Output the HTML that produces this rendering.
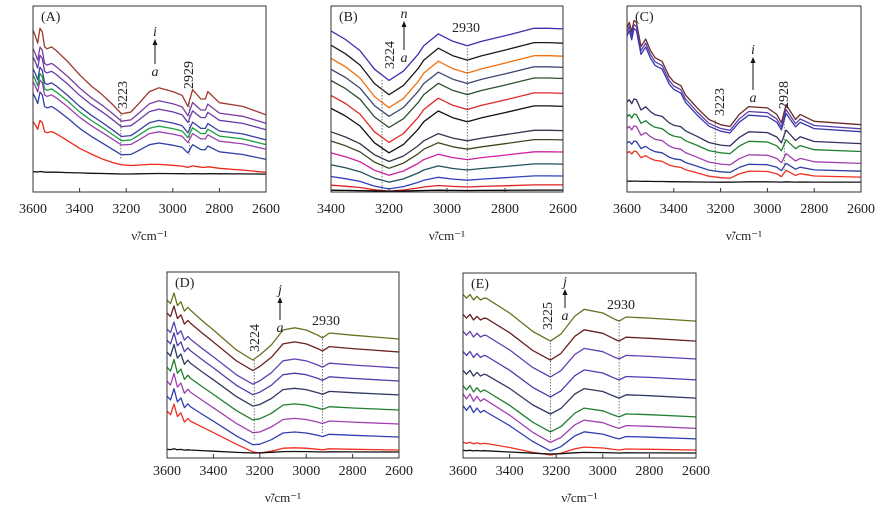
<!DOCTYPE html>
<html><head><meta charset="utf-8">
<style>
html,body{margin:0;padding:0;background:#fff;}
svg{display:block;font-family:"Liberation Serif",serif;}
</style></head>
<body>
<svg id="fig" width="886" height="508" viewBox="0 0 886 508" xmlns="http://www.w3.org/2000/svg"></svg>
<script>
// ---------- Panel A data ----------
const wnA=[3600,3590,3580,3570,3560,3550,3540,3520,3500,3450,3400,3350,3300,3250,3220,3180,3150,3100,3060,3000,2960,2935,2915,2880,2860,2850,2800,2700,2600];
const bgA=[45.5,42.5,38.5,46.5,44.5,36.5,35.5,36.5,34.5,28,21.5,16.5,12,9,8,7,6.6,6,5.6,5,4.6,4.4,4.2,3.8,3.6,3.5,3,1.5,0];
const bandA=[0,0,0,0,0,0,0,0,0,0.5,0,-1,-1.5,-4.5,-7.5,-5.5,-1.1,6.5,8.9,7.5,5.9,0.1,9.3,4.7,4.9,9,3.5,3,0];
const offA=[41.5,37,33.5,28,25.5,23,17.5,10.6,9.6];
const bgAmpA=[1,0.88,0.86,0.84,0.82,0.8,0.78,0.6,0.03];
const bandAmpA=[1,0.8,0.7,0.65,0.6,0.55,0.5,0.1,0.02];
const colA=["#a0362c","#7a3fa0","#6a3aa8","#3b3fa0","#18a040","#9a40b0","#3040a8","#f02818","#111"];
// ---------- Panel B data ----------
const wnB=[3400,3350,3300,3250,3200,3150,3100,3080,3030,2980,2930,2880,2800,2700,2650,2600];
const bgB=[0,0,0,0,0,0,0,0,0,0,0,0,0,0,0,0];
const bandB=[-1.1,-5.7,-11.7,-21.7,-27.7,-22.7,-13.7,-9.1,-2.7,-6.7,-9.1,-6.7,-3.7,0.3,0.3,0];
const offB=[87.7,80,73,67,61,53,46,33,28,21.5,15,8.6,3.8,1];
const bgAmpB=[0,0,0,0,0,0,0,0,0,0,0,0,0,0];
const bandAmpB=[1,1,1,0.95,0.95,0.95,0.9,0.6,0.55,0.45,0.35,0.25,0.12,0.02];
const colB=["#3a30b0","#201820","#f07010","#404870","#2a5030","#e02828","#101010","#303848","#3a4a20","#d020a0","#20505a","#3040c0","#e02020","#000"];
// ---------- Panel C data ----------
const wnC=[3600,3590,3580,3570,3560,3540,3520,3500,3480,3450,3420,3400,3370,3350,3300,3250,3200,3160,3120,3080,3000,2960,2940,2920,2880,2860,2800,2600];
const bgC=[52,55,50,56,55,42,46,40,36,34,26,23,21,16,9,5,3,2.2,1.8,1.6,1.3,1.1,1,0.9,0.8,0.7,0.5,0];
const bandC=[0,0,0,0,0,0,0,0,0,0,0,0,0,0,0,-2.2,-3,-3.2,3.7,8.1,7.7,4.4,0,9.9,2,4.8,1.3,0];
const offC=[36.2,34,32.4,26,21.8,15.4,11.2,8,5.3];
const bgAmpC=[1,1,0.99,0.43,0.36,0.36,0.29,0.25,0.01];
const bandAmpC=[1,0.95,0.9,0.7,0.6,0.5,0.4,0.35,0.02];
const colC=["#6a2a28","#5a40b0","#3a38a8","#303060","#208030","#a040b0","#3040a8","#f03020","#111"];
// ---------- Panel D data ----------
const wnD=[3600,3585,3570,3555,3540,3525,3510,3500,3450,3400,3300,3230,3200,3150,3100,3050,3000,2950,2930,2900,2800,2600];
const bgD=[21,19,24.7,18,20,15,17,15.6,13.1,10.5,5.3,1.6,0,0,0,0,0,0,0,0,0,0];
const bandD=[0,0,0,0,0,0,0,0,-3.1,-5.7,-11.3,-12.9,-8.6,-3.2,4.8,6,4.8,2,0.5,3.2,2,0];
const offD=[64,57,48.4,41.4,33.9,25.8,18.3,11.3,4.3,3.2];
const bgAmpD=[1,1,1,1.05,1.1,1.1,1.1,1.05,1,0.07];
const bandAmpD=[1,0.9,0.8,0.7,0.6,0.55,0.5,0.45,0.2,0.05];
const colD=["#6a7020","#6a2020","#6040b0","#4a40a8","#303860","#208030","#a040b0","#3040b0","#f03020","#111"];
// ---------- Panel E data ----------
const wnE=[3600,3585,3570,3555,3540,3525,3510,3500,3400,3300,3225,3180,3120,3080,3000,2950,2930,2900,2800,2600];
const bgE=[14.4,12.4,14.4,11.4,13.4,11.4,12.4,11,7,3,0,0,0,0,0,0,0,0,0,0];
const bandE=[0,0,0,0,0,0,0,1.4,-2.6,-8.6,-10.8,-7,2.7,6.4,4.4,1.1,0,2.2,1.6,0];
const offE=[74,63.2,53.5,42.2,32.4,22.2,16,10.3,4.3,2.7];
const bgAmpE=[1,1,1.04,1.07,1.04,1.18,1.29,1.25,0.29,0.1];
const bandAmpE=[1,0.95,0.9,0.85,0.8,0.75,0.7,0.6,0.25,0.05];
const colE=["#6a7020","#6a2020","#6040b0","#4a40b0","#303860","#208030","#a040b0","#3040b0","#f03020","#111"];
const ticksTop=[3600,3400,3200,3000,2800,2600];
const ticksB=[3400,3200,3000,2800,2600];

const NS="http://www.w3.org/2000/svg";
const svg=document.getElementById('fig');
function mk(tag,attrs,parent){const e=document.createElementNS(NS,tag);for(const k in attrs)e.setAttribute(k,attrs[k]);(parent||svg).appendChild(e);return e;}

function panel(p){
  const g=mk('g',{});
  
  
  const xS=w=>p.x0+(p.wmax-w)/(p.wmax-p.wmin)*(p.x1-p.x0);
  const yS=v=>p.y1-v/100*(p.y1-p.y0);
  p.off.forEach((o,i)=>{
    const pts=p.wn.map((w,j)=>xS(w).toFixed(1)+','+yS(o+p.bgAmp[i]*p.bg[j]+p.bandAmp[i]*p.band[j]).toFixed(1)).join(' ');
    const pl=mk('polyline',{points:pts,fill:'none',stroke:p.col[i],'stroke-width':1.3,'stroke-linejoin':'round'},g);
    
    
  });
  const fr=mk('rect',{x:p.x0,y:p.y0,width:p.x1-p.x0,height:p.y1-p.y0,fill:'none',stroke:'#333','stroke-width':1},g);
  
  
  p.ticks.forEach(t=>{
    const x=xS(t);
    mk('line',{x1:x,x2:x,y1:p.y1,y2:p.y1-4,stroke:'#333'},g);
    const tx=mk('text',{x:x,y:p.ty,'text-anchor':'middle','font-size':14,fill:'#222'},g);
    tx.textContent=t;
    
    
  });
  const at=mk('text',{x:(p.x0+p.x1)/2,y:p.ty+27,'text-anchor':'middle','font-size':13,fill:'#222'},g);
  at.textContent='ν̃/cm⁻¹';
  
  
  const lb=mk('text',{x:p.x0+8,y:p.y0+15,'font-size':14,fill:'#222'},g);
  lb.textContent='('+p.id+')';
  
  
  p.marks.forEach(m=>{
    const x=xS(m.w);
    const dl=mk('line',{x1:x,x2:x,y1:m.ya,y2:m.yb,stroke:'#555','stroke-width':0.8,'stroke-dasharray':'1.5,1.5'},g);
    
    
    let t;
    if(m.rot){t=mk('text',{x:0,y:0,'font-size':14,fill:'#222','text-anchor':'middle',transform:`translate(${m.lx},${m.ly}) rotate(-90)`},g);}
    else{t=mk('text',{x:m.lx,y:m.ly,'font-size':14,fill:'#222','text-anchor':'middle'},g);}
    t.textContent=m.t;
    
    
  });
  const a=p.arrow;
  mk('line',{x1:a.x,x2:a.x,y1:a.yb,y2:a.yt+4,stroke:'#111','stroke-width':1},g);
  mk('polygon',{points:`${a.x-2.5},${a.yt+5} ${a.x+2.5},${a.yt+5} ${a.x},${a.yt-1}`,fill:'#111'},g);
  const t1=mk('text',{x:a.x,y:a.yt-4,'font-size':14,'font-style':'italic','text-anchor':'middle',fill:'#222'},g);
  t1.textContent=a.top;
  
  
  const t2=mk('text',{x:a.x,y:a.yb+12,'font-size':14,'font-style':'italic','text-anchor':'middle',fill:'#222'},g);
  t2.textContent='a';
  
  
}

panel({id:'A',x0:33,x1:266,y0:6,y1:192,wmax:3600,wmin:2600,ticks:ticksTop,ty:213,
  wn:wnA,bg:bgA,band:bandA,off:offA,bgAmp:bgAmpA,bandAmp:bandAmpA,col:colA,
  marks:[{w:3223,ya:112,yb:160,t:'3223',rot:true,lx:127,ly:95},{w:2929,ya:100,yb:155,t:'2929',rot:true,lx:193,ly:75}],
  arrow:{x:155,yt:40,yb:64,top:'i'}});
panel({id:'B',x0:331,x1:563,y0:6,y1:192,wmax:3400,wmin:2600,ticks:ticksB,ty:213,
  wn:wnB,bg:bgB,band:bandB,off:offB,bgAmp:bgAmpB,bandAmp:bandAmpB,col:colB,
  marks:[{w:3224,ya:80,yb:190,t:'3224',rot:true,lx:394,ly:55},{w:2930,ya:48,yb:190,t:'2930',rot:false,lx:466,ly:32}],
  arrow:{x:404,yt:22,yb:50,top:'n'}});
panel({id:'C',x0:627,x1:861,y0:6,y1:192,wmax:3600,wmin:2600,ticks:ticksTop,ty:213,
  wn:wnC,bg:bgC,band:bandC,off:offC,bgAmp:bgAmpC,bandAmp:bandAmpC,col:colC,
  marks:[{w:3223,ya:120,yb:172,t:'3223',rot:true,lx:724,ly:102},{w:2928,ya:118,yb:170,t:'2928',rot:true,lx:788,ly:95}],
  arrow:{x:753,yt:58,yb:90,top:'i'}});
panel({id:'D',x0:167,x1:399,y0:272,y1:458,wmax:3600,wmin:2600,ticks:ticksTop,ty:475,
  wn:wnD,bg:bgD,band:bandD,off:offD,bgAmp:bgAmpD,bandAmp:bandAmpD,col:colD,
  marks:[{w:3224,ya:360,yb:440,t:'3224',rot:true,lx:259,ly:338},{w:2930,ya:336,yb:433,t:'2930',rot:false,lx:326,ly:325}],
  arrow:{x:280,yt:298,yb:320,top:'j'}});
panel({id:'E',x0:463,x1:696,y0:273,y1:458,wmax:3600,wmin:2600,ticks:ticksTop,ty:475,
  wn:wnE,bg:bgE,band:bandE,off:offE,bgAmp:bgAmpE,bandAmp:bandAmpE,col:colE,
  marks:[{w:3225,ya:340,yb:440,t:'3225',rot:true,lx:552,ly:316},{w:2930,ya:320,yb:425,t:'2930',rot:false,lx:621,ly:309}],
  arrow:{x:565,yt:290,yb:308,top:'j'}});
</script>
</body></html>
